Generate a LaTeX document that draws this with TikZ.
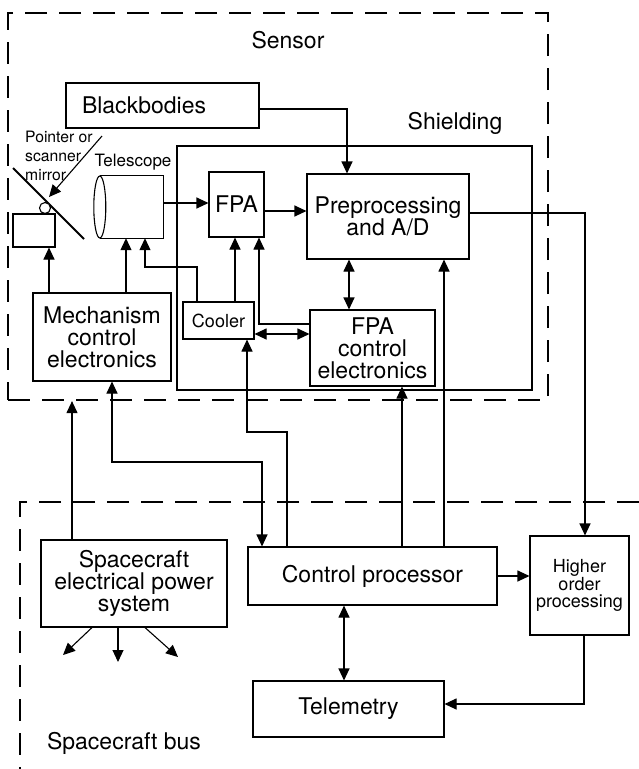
\documentclass[tikz,border=0pt]{standalone}
\usepackage{fontspec}
\setmainfont{TeX Gyre Heros}
\usetikzlibrary{arrows.meta}

\newcommand{\bigfont}{\fontsize{23}{22}\selectfont}
\newcommand{\smallfont}{\fontsize{18}{17}\selectfont}
\newcommand{\telfont}{\fontsize{17}{20}\selectfont}
\newcommand{\notefont}{\fontsize{15.7}{18.7}\selectfont}

\tikzset{
  box/.style={draw, line width=1.1pt, inner sep=0pt, align=center, font=\bigfont},
  smallbox/.style={box, font=\smallfont},
  label/.style={inner sep=0pt, align=center, font=\bigfont},
  dashline/.style={line width=2.2pt, dash pattern=on 22pt off 12pt},
  wire/.style={line width=1.1pt},
  arr/.style={wire, -{Triangle[length=12pt,width=11pt]}},
  darr/.style={wire, {Triangle[length=12pt,width=11pt]}-{Triangle[length=12pt,width=11pt]}}
}

\begin{document}
\begin{tikzpicture}[x=1pt,y=1pt,yscale=-1]
\useasboundingbox (0,0) rectangle (639,769);

% Sensor and shielding outlines
\node[draw, dashline, minimum width=540pt, minimum height=387pt] (sensor) at (278,206.5) {};
\node[draw, line width=2.2pt, minimum width=355pt, minimum height=244pt] (shield) at (354.5,268) {};
% Spacecraft bus outline (open to the right and below)
\draw[dashline] (639,502) -| (20,769);

% Text Node
\node[label] (sensorlbl) at (288,40) {Sensor};
\node[label] (shieldlbl) at (455,123) {Shielding};
\node[label] (buslbl) at (124,743) {Spacecraft bus};

% Boxes of the sensor
\node[box, inner xsep=16pt, text width=161pt, align=left, minimum height=45pt] (bb) at (162.5,105.5) {Blackbodies};
\node[box, minimum width=55pt, minimum height=65pt] (fpa) at (236.5,204.5) {FPA};
\node[box, minimum width=162pt, minimum height=85pt] (pre) at (388,216.5) {Preprocessing\\and A/D};
\node[smallbox, minimum width=71pt, minimum height=37pt] (cool) at (218.5,320.5) {Cooler};
\node[box, minimum width=125pt, minimum height=76pt] (fce) at (372.5,348) {FPA\\control\\electronics};
\node[box, minimum width=138pt, minimum height=88pt] (mech) at (102,337) {Mechanism\\control\\electronics};
\node[box, minimum width=42pt, minimum height=33pt] (mbox) at (34,230.5) {};

% Telescope: cylinder
\node[inner sep=0pt, minimum width=63pt, minimum height=62pt] (tel) at (131.5,207) {};
\draw[wire] (tel.north west) -- (tel.north east) -- (tel.south east) -- (tel.south west);
\draw[wire, fill=white] (tel.west) ellipse [x radius=6, y radius=31];
\node[inner sep=0pt, font=\telfont] (tellbl) at (133,162) {Telescope};

% Pointer or scanner mirror
\draw[line width=2pt] (13,168) -- (84,239);
\draw[wire, fill=white] (45,208) circle [radius=5.5];
\node[inner sep=0pt, align=left, anchor=west, font=\notefont] (mirrorlbl) at (25,156) {Pointer or\\scanner\\mirror};
\draw[arr] (102,136) -- (49,197);

% Boxes of the bus
\node[box, minimum width=186pt, minimum height=87pt] (pwr) at (134,583.5) {Spacecraft\\electrical power\\system};
\node[box, minimum width=249pt, minimum height=58pt] (cp) at (372.5,576) {Control processor};
\node[smallbox, minimum width=99pt, minimum height=99pt] (hop) at (579.5,585.5) {Higher\\order\\processing};
\node[box, minimum width=191pt, minimum height=56pt] (tm) at (348.5,709) {Telemetry};

% Connectors inside the sensor
\draw[arr] (49,0 |- mech.north) -- (49,0 |- mbox.south);
\draw[arr] (126,0 |- mech.north) -- (126,0 |- tel.south);
\draw[arr] (197,0 |- cool.north) -- (197,267) -| (145,0 |- tel.south);
\draw[arr] (235,0 |- cool.north) -- (235,0 |- fpa.south);
\draw[arr] (fce.west |- 0,324) -| (259,0 |- fpa.south);
\draw[darr] (cool.east |- 0,334) -- (fce.west |- 0,334);
\draw[arr] (tel.east |- 0,203) -- (fpa.west |- 0,203);
\draw[arr] (fpa.east |- 0,211) -- (pre.west |- 0,211);
\draw[arr] (bb.east |- 0,109) -| (347,0 |- pre.north);
\draw[darr] (349,0 |- pre.south) -- (349,0 |- fce.north);

% Connectors between sensor and bus
\draw[arr] (287,0 |- cp.north) |- (247,432) -- (247,0 |- cool.south);
\draw[darr] (112,0 |- mech.south) |- (262,462) -- (262,0 |- cp.north);
\draw[arr] (402,0 |- cp.north) -- (402,0 |- fce.south);
\draw[arr] (444,0 |- cp.north) -- (444,0 |- pre.south);
\draw[arr] (pre.east |- 0,213) -| (585,0 |- hop.north);
\draw[arr] (72,0 |- pwr.north) -- (72,0 |- sensor.south);

% Connectors inside the bus
\draw[arr] (cp.east) -- (hop.west |- cp.east);
\draw[arr] (584,0 |- hop.south) |- (tm.east |- 0,704);
\draw[darr] (344,0 |- cp.south) -- (344,0 |- tm.north);
\draw[arr] (92,0 |- pwr.south) -- (63,655);
\draw[arr] (118,0 |- pwr.south) -- (118,662);
\draw[arr] (145,0 |- pwr.south) -- (178,657);

\end{tikzpicture}
\end{document}
